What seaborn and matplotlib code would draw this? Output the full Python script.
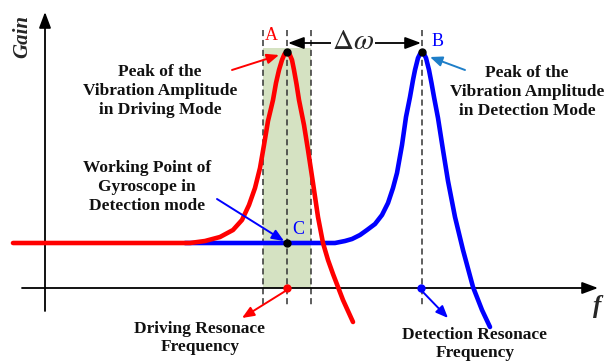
import matplotlib
matplotlib.use("Agg")
import matplotlib.pyplot as plt
import seaborn as sns
import pandas as pd

# ---- data (in picture coordinates) ----
red_x = [13, 190, 205, 220, 233, 242, 249, 255, 260, 264, 268, 273, 276, 279, 282, 284.5, 287,
         289.5, 292, 294, 296.5, 299, 304, 308, 313, 318, 323, 328, 333, 338, 343, 353]
red_y = [243, 243, 241, 237, 230, 220, 205, 188, 168, 145, 121, 100, 83, 70, 60, 54, 52,
         54, 60, 70, 84, 100, 125, 150, 183, 217, 243, 260, 274, 287, 300, 322]
blue_x = [185, 335, 345, 352, 360, 367, 375, 382, 388, 393, 397, 402, 406, 410, 413, 415, 418,
          420, 422, 424, 426, 429, 431.5, 434, 438, 443, 448, 455, 463, 473, 482, 490]
blue_y = [243, 243, 241, 239, 235, 230, 224, 215, 203, 188, 173, 145, 117, 97, 80, 70, 58,
          54, 52, 54, 58, 70, 83, 97, 118, 150, 181, 217, 250, 287, 310, 327]

driving_f = 287
detect_f = 422
band = [263, 311]
peak_y = 52
work_y = 243
axis_y = 288
axis_x = 45

labels = {
    "drive_peak": "Peak of the\nVibration Amplitude\nin Driving Mode",
    "detect_peak": "Peak of the\nVibration Amplitude\nin Detection Mode",
    "work": "Working Point of\nGyroscope in\nDetection mode",
    "drive_f": "Driving Resonace\nFrequency",
    "detect_f": "Detection Resonace\nFrequency",
}

sns.set_theme(style="white")
plt.rcParams["font.family"] = ["Liberation Serif", "DejaVu Serif"]
plt.rcParams["mathtext.fontset"] = "stix"

fig = plt.figure(figsize=(6.06, 3.63), dpi=100)
ax = fig.add_axes([0, 0, 1, 1])

# shaded band
ax.fill_between(band, [48, 48], [axis_y, axis_y], color="#d5e2c2", zorder=1, lw=0)

# dashed lines
for xv in [band[0], driving_f, band[1], detect_f]:
    ax.plot([xv, xv], [30, 308], ls=(0, (4, 2.5)), color="#333333", lw=1.1, zorder=2)

# axes arrows
ax.annotate("", xy=(axis_x, 12), xytext=(axis_x, 311),
            arrowprops=dict(arrowstyle="-|>,head_length=0.8,head_width=0.3", color="black", lw=1.3,
                            shrinkA=0, shrinkB=0), zorder=3)
ax.annotate("", xy=(598, axis_y), xytext=(22, axis_y),
            arrowprops=dict(arrowstyle="-|>,head_length=0.8,head_width=0.3", color="black", lw=1.3,
                            shrinkA=0, shrinkB=0), zorder=3)

# curves
df_blue = pd.DataFrame({"x": blue_x, "y": blue_y})
df_red = pd.DataFrame({"x": red_x, "y": red_y})
sns.lineplot(data=df_blue, x="x", y="y", sort=False, estimator=None, color="#0000ff", lw=3.3,
             ax=ax, zorder=4)
sns.lineplot(data=df_red, x="x", y="y", sort=False, estimator=None, color="#ff0000", lw=3.3,
             ax=ax, zorder=5)
ax.set_xlim(0, 606)
ax.set_ylim(363, 0)
ax.axis("off")

# points
ax.plot([driving_f, detect_f, driving_f], [peak_y, peak_y, work_y], "o", color="black", ms=5, zorder=6)
ax.plot([driving_f], [axis_y], "o", color="#ff0000", ms=5, zorder=6)
ax.plot([detect_f - 1], [axis_y], "o", color="#0000ff", ms=5, zorder=6)

# delta omega
ax.annotate("", xy=(driving_f + 1, 43), xytext=(detect_f - 1, 43),
            arrowprops=dict(arrowstyle="<|-|>,head_length=0.8,head_width=0.3", color="black", lw=1.3,
                            shrinkA=0, shrinkB=0), zorder=3)
ax.text(353, 42, r"$\Delta\omega$", fontsize=21, ha="center", va="center",
        bbox=dict(facecolor="white", edgecolor="none", pad=1), zorder=4)

ax.text(271, 35, "A", color="#ff0000", fontsize=13, ha="center", va="center")
ax.text(438, 41, "B", color="#0000ff", fontsize=13, ha="center", va="center")
ax.text(298, 229, "C", color="#0000ff", fontsize=13, ha="center", va="center")

tkw = dict(fontsize=12.5, fontweight="bold", ha="center", va="center", linespacing=1.22, color="#111111")
ax.text(160, 91, labels["drive_peak"], **tkw)
ax.text(527, 92, labels["detect_peak"], **tkw)
ax.text(147, 187, labels["work"], **tkw)
ax.text(200, 338, labels["drive_f"], **tkw)
ax.text(475, 344, labels["detect_f"], **tkw)

ax.text(22, 36, "Gain", fontsize=15, fontweight="bold", style="italic", rotation=90,
        ha="center", va="center")
ax.text(597, 307, "f", fontsize=18, fontweight="bold", style="italic", ha="center", va="center")

# annotation arrows
def arr(x0, y0, x1, y1, c):
    ax.annotate("", xy=(x1, y1), xytext=(x0, y0),
                arrowprops=dict(arrowstyle="-|>,head_length=0.6,head_width=0.25", color=c, lw=1.4,
                                shrinkA=0, shrinkB=0), zorder=7)

arr(232, 70, 279, 55, "#ff0000")
arr(465, 70, 430, 57, "#1e7ec8")
arr(217, 199, 284, 241, "#0000ff")
arr(287, 290, 242, 318, "#ff0000")
arr(421, 290, 448, 318, "#0000ff")

fig.savefig("out.png", dpi=100)
